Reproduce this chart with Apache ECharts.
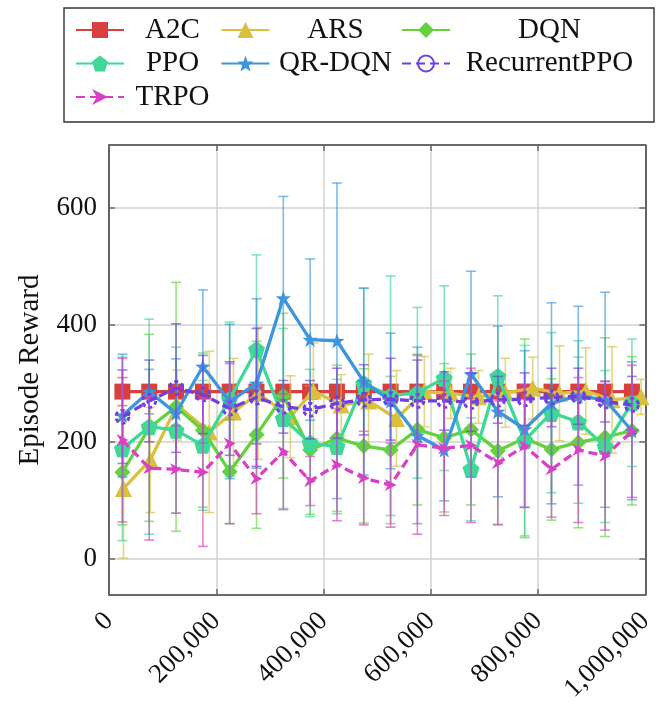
<!DOCTYPE html>
<html>
<head>
<meta charset="utf-8">
<script src="https://cdn.jsdelivr.net/npm/echarts@6/dist/echarts.min.js"></script>
<style>html,body{margin:0;padding:0;background:#fff}#c{width:657px;height:705px}</style>
</head>
<body>
<div id="c"></div>
<script>
// ---- data ----
const algoNames = ['A2C', 'ARS', 'DQN', 'PPO', 'QR-DQN', 'RecurrentPPO', 'TRPO'];
const steps = [25000, 75000, 125000, 175000, 225000, 275000, 325000, 375000, 425000, 475000,
               525000, 575000, 625000, 675000, 725000, 775000, 825000, 875000, 925000, 975000];
const arsSteps = [27000, 77000, 127000, 187000, 232000, 278000, 338000, 381000, 433000, 484000,
                  536000, 588000, 637000, 689000, 739000, 790000, 840000, 889000, 938000, 992000];

const a2cMean = [286, 286, 286, 286, 286, 286, 286, 286, 286, 286, 286, 286, 286, 286, 286, 286, 286, 286, 286, 286];
const a2cStd  = [24, 0, 0, 0, 0, 0, 0, 0, 0, 0, 0, 0, 0, 0, 0, 0, 0, 0, 0, 0];
const arsMean = [120, 169, 263, 217, 251, 283, 243, 287, 263, 270, 240, 286, 283, 277, 284, 292, 283, 287, 272, 277];
const arsStd  = [119, 90, 60, 138, 92, 113, 70, 82, 52, 80, 82, 60, 43, 45, 59, 53, 81, 74, 91, 30];
const dqnMean = [148, 224, 260, 220, 149, 212, 279, 186, 206, 193, 186, 221, 207, 221, 185, 206, 187, 199, 208, 219];
const dqnStd  = [90, 160, 213, 132, 89, 160, 141, 110, 125, 132, 126, 129, 127, 129, 126, 170, 121, 146, 170, 127];
const ppoMean = [188, 226, 220, 194, 273, 358, 240, 198, 192, 300, 279, 284, 309, 153, 312, 202, 250, 234, 192, 267];
const ppoStd  = [157, 184, 142, 111, 132, 162, 154, 126, 115, 163, 205, 146, 158, 88, 138, 163, 137, 139, 130, 109];
const qrdqnMean = [245, 286, 249, 329, 269, 300, 446, 375, 373, 303, 270, 211, 186, 316, 252, 222, 266, 279, 272, 219];
const qrdqnStd  = [105, 38, 93, 131, 132, 145, 174, 138, 270, 160, 116, 151, 87, 176, 146, 134, 172, 153, 184, 118];
const rppoMean = [243, 270, 292, 281, 257, 276, 260, 255, 266, 272, 273, 270, 270, 268, 272, 273, 276, 278, 269, 263];
const rppoStd  = [80, 70, 110, 67, 80, 118, 45, 50, 60, 60, 70, 70, 50, 50, 40, 45, 50, 48, 35, 49];
const trpoMean = [203, 155, 153, 148, 197, 137, 183, 133, 161, 138, 126, 195, 189, 194, 164, 193, 153, 186, 176, 218];
const trpoStd  = [140, 123, 75, 127, 137, 60, 99, 42, 96, 80, 72, 153, 115, 132, 106, 105, 82, 124, 127, 113];

const yTicks = [0, 200, 400, 600];

// ---- styles ----
const FONT = "'Liberation Serif', 'Times New Roman', serif";
const styles = {
  'A2C':          {color: '#d8403f', symbol: 'rect', size: 16, dashed: false},
  'ARS':          {color: '#d9c03f', symbol: 'triangle', size: 17, dashed: false},
  'DQN':          {color: '#63d23c', symbol: 'diamond', size: 16, dashed: false},
  'PPO':          {color: '#3fd897', symbol: 'path://M0,-10 L9.51,-3.09 L5.88,8.09 L-5.88,8.09 L-9.51,-3.09 Z', size: 17, dashed: false},
  'QR-DQN':       {color: '#3d96db', symbol: 'path://M0,-10 L2.4,-3.3 L9.5,-3.1 L3.9,1.3 L5.9,8.1 L0,4.1 L-5.9,8.1 L-3.9,1.3 L-9.5,-3.1 L-2.4,-3.3 Z', size: 15, dashed: false},
  'RecurrentPPO': {color: '#6f3fdf', symbol: 'circle', size: 13, dashed: true, hollow: true},
  'TRPO':         {color: '#da40c6', symbol: 'path://M0,0 L10,5 L0,10 L3,5 Z', size: 12, dashed: true}
};
const seriesData = {
  'A2C': [steps, a2cMean, a2cStd],
  'ARS': [arsSteps, arsMean, arsStd],
  'DQN': [steps, dqnMean, dqnStd],
  'PPO': [steps, ppoMean, ppoStd],
  'QR-DQN': [steps, qrdqnMean, qrdqnStd],
  'RecurrentPPO': [steps, rppoMean, rppoStd],
  'TRPO': [steps, trpoMean, trpoStd]
};

function errRenderer(color) {
  return function (params, api) {
    const x = api.value(0), lo = api.value(1), hi = api.value(2);
    if (hi - lo <= 0) return null;
    const p1 = api.coord([x, hi]);
    const p2 = api.coord([x, lo]);
    const w = 5;
    const st = {stroke: color, lineWidth: 1.6, opacity: 0.65};
    return {
      type: 'group',
      children: [
        {type: 'line', shape: {x1: p1[0], y1: p1[1], x2: p2[0], y2: p2[1]}, style: st},
        {type: 'line', shape: {x1: p1[0] - w, y1: p1[1], x2: p1[0] + w, y2: p1[1]}, style: st},
        {type: 'line', shape: {x1: p2[0] - w, y1: p2[1], x2: p2[0] + w, y2: p2[1]}, style: st}
      ]
    };
  };
}

const series = [];
algoNames.forEach(function (name, i) {
  const s = styles[name];
  const d = seriesData[name];
  const xs = d[0], m = d[1];
  series.push({
    name: name,
    type: 'line',
    z: 3 + 2 * i,
    data: xs.map(function (x, k) { return [x, m[k]]; }),
    color: s.color,
    symbol: s.symbol,
    symbolSize: s.size,
    showSymbol: true,
    lineStyle: {color: s.color, width: 3.3, type: s.dashed ? [9, 5] : 'solid'},
    itemStyle: s.hollow
      ? {color: 'rgba(255,255,255,0)', borderColor: s.color, borderWidth: 3, borderType: [4, 3]}
      : {color: s.color},
    emphasis: {disabled: true},
    animation: false
  });
});
algoNames.forEach(function (name, i) {
  const s = styles[name];
  const d = seriesData[name];
  const xs = d[0], m = d[1], sd = d[2];
  series.push({
    name: name + ' err',
    type: 'custom',
    z: 2 + 2 * i,
    renderItem: errRenderer(s.color),
    data: xs.map(function (x, k) { return [x, m[k] - sd[k], m[k] + sd[k]]; }),
    encode: {x: 0, y: [1, 2]},
    animation: false
  });
});

const colKey = {'A2C': 'a', 'PPO': 'a', 'TRPO': 'a', 'ARS': 'b', 'QR-DQN': 'b', 'DQN': 'c', 'RecurrentPPO': 'c'};

function fmtThousands(v) {
  return String(v).replace(/\B(?=(\d{3})+(?!\d))/g, ',');
}

const axisLineStyle = {color: '#3a3a3a', width: 1.5};
const tickStyle = {color: '#6a6a6a', width: 1.5};

const option = {
  animation: false,
  backgroundColor: '#ffffff',
  textStyle: {fontFamily: FONT},
  grid: {left: 109, right: 5, top: 145, bottom: 110},
  legend: {
    data: algoNames,
    left: 64, top: 8,
    width: 570,
    orient: 'horizontal',
    itemWidth: 48, itemHeight: 20, itemGap: 4.5,
    padding: [7.5, 10, 10.5, 11],
    borderColor: '#333', borderWidth: 1.4,
    backgroundColor: '#fff',
    selectedMode: false,
    textStyle: {
      fontFamily: FONT, fontSize: 29, color: '#111', lineHeight: 29,
      rich: {
        a: {width: 87, align: 'center', fontFamily: FONT, fontSize: 29, lineHeight: 29, color: '#111'},
        b: {width: 122, align: 'center', fontFamily: FONT, fontSize: 29, lineHeight: 29, color: '#111'},
        c: {width: 189, align: 'center', fontFamily: FONT, fontSize: 29, lineHeight: 29, color: '#111'}
      }
    },
    formatter: function (name) { return '{' + colKey[name] + '|' + name + '}'; }
  },
  xAxis: [{
    type: 'value', min: 0, max: 1000000, interval: 200000, position: 'bottom',
    axisLine: {show: true, onZero: false, lineStyle: axisLineStyle},
    axisTick: {show: true, inside: true, length: 6, lineStyle: tickStyle},
    axisLabel: {
      rotate: 45, margin: 22, fontFamily: FONT, fontSize: 27, color: '#111',
      showMinLabel: true, showMaxLabel: true,
      formatter: fmtThousands
    },
    splitLine: {show: true, lineStyle: {color: '#d2d2d2', width: 1.5}}
  }, {
    type: 'value', min: 0, max: 1000000, interval: 200000, position: 'top',
    axisLine: {show: true, onZero: false, lineStyle: axisLineStyle},
    axisTick: {show: true, inside: true, length: 6, lineStyle: tickStyle},
    axisLabel: {show: false},
    splitLine: {show: false}
  }],
  yAxis: [{
    type: 'value', min: -62, max: 708, position: 'left',
    name: 'Episode Reward', nameLocation: 'middle', nameGap: 64, nameRotate: 90,
    nameTextStyle: {fontFamily: FONT, fontSize: 29, color: '#111'},
    axisLine: {show: true, onZero: false, lineStyle: axisLineStyle},
    axisTick: {show: true, inside: true, length: 6, lineStyle: tickStyle, customValues: yTicks},
    axisLabel: {fontFamily: FONT, fontSize: 27, color: '#111', margin: 12, customValues: yTicks},
    splitLine: {show: true, lineStyle: {color: '#d2d2d2', width: 1.5}}
  }, {
    type: 'value', min: -62, max: 708, position: 'right',
    axisLine: {show: true, onZero: false, lineStyle: axisLineStyle},
    axisTick: {show: true, inside: true, length: 6, lineStyle: tickStyle, customValues: yTicks},
    axisLabel: {show: false, customValues: yTicks},
    splitLine: {show: false}
  }],
  series: series
};

const chart = echarts.init(document.getElementById('c'), null, {renderer: 'canvas'});
chart.setOption(option);
</script>
</body>
</html>
